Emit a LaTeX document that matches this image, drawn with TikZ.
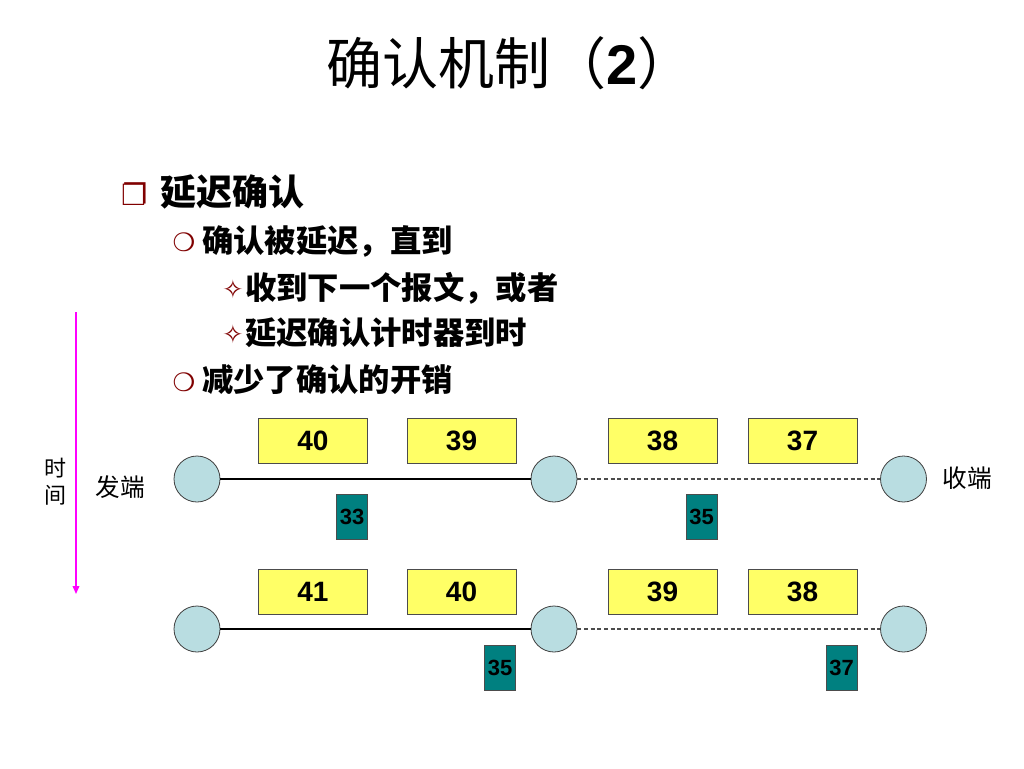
\documentclass[tikz,border=0pt]{standalone}
\usepackage{fontspec}
\setmainfont{Liberation Sans}
\newfontfamily\cjk{Noto Sans CJK SC}
\newfontfamily\sym{DejaVu Sans}
\usetikzlibrary{arrows.meta}
\definecolor{pktyellow}{RGB}{255,255,102}
\definecolor{ackteal}{RGB}{0,128,128}
\definecolor{hostblue}{RGB}{185,221,225}
\definecolor{bulletred}{RGB}{128,0,0}
\definecolor{timemag}{RGB}{255,0,255}
\tikzset{
    normal/.style={draw, semithick},
    pkt/.style={style=normal, draw=black!70, fill=pktyellow, inner sep=0pt, minimum width=81.75pt, minimum height=33.75pt, font=\fontsize{21}{21}\selectfont\bfseries}, % data segments
    ack/.style={style=normal, draw=black!70, fill=ackteal, inner sep=0pt, minimum width=23.25pt, minimum height=33.75pt, font=\fontsize{16.5}{16.5}\selectfont\bfseries}, % acknowledgements
    host/.style={style=normal, circle, draw=black!75, fill=hostblue, inner sep=0pt, minimum size=34.5pt}, % end points
    link/.style={line width=1pt, black},
    wait/.style={line width=0.8pt, black!70, dash pattern=on 3pt off 2pt},
    lbl/.style={font=\cjk\fontsize{18.5}{18.5}\selectfont, inner sep=0pt},
    bul/.style={font=\sym, text=bulletred, inner sep=0pt},
    item/.style={anchor=west, inner sep=0pt, font=\cjk\bfseries\fontsize{23.5}{23.5}\selectfont}
}

\begin{document}
\begin{tikzpicture}[x=0.75pt, y=-0.75pt]
    \useasboundingbox[fill=white] (0,0) rectangle (1024,768);

    \node[anchor=west, inner sep=0pt] (title) at (326,63) {\fontsize{42}{42}\selectfont{\cjk 确认机制（}{\bfseries 2}{\cjk ）}};

    % bullet list
    \node[bul, font=\sym\fontsize{22}{22}\selectfont] (b1) at (135,194) {❐};
    \node[item, font=\cjk\bfseries\fontsize{27}{27}\selectfont] (t1) at (160,192) {延迟确认};
    \node[bul, font=\sym\fontsize{19}{19}\selectfont] (b2) at (184,242) {❍};
    \node[item] (t2) at (202,241) {确认被延迟，直到};
    \node[bul, font=\sym\fontsize{19}{19}\selectfont] (b3) at (233,289) {✧};
    \node[item] (t3) at (245,288) {收到下一个报文，或者};
    \node[bul, font=\sym\fontsize{19}{19}\selectfont] (b4) at (233,334) {✧};
    \node[item] (t4) at (245,333) {延迟确认计时器到时};
    \node[bul, font=\sym\fontsize{19}{19}\selectfont] (b5) at (184,382) {❍};
    \node[item] (t5) at (202,380) {减少了确认的开销};

    % time axis
    \coordinate (top) at (76,312);
    \coordinate (bot) at (76,594);
    \draw[timemag, line width=1pt, -{Triangle[width=5pt,length=6pt]}] (top) -- (bot);
    \node[lbl, font=\cjk\fontsize{16.5}{16.5}\selectfont] (shi) at (55,468) {时};
    \node[lbl, font=\cjk\fontsize{16.5}{16.5}\selectfont] (jian) at (55,495) {间};
    \node[lbl] (send) at (120,487) {发端};
    \node[lbl] (recv) at (967,478) {收端};

    % first moment
    \node[host] (s1) at (197,479) {};
    \node[host] (m1) at (554,479) {};
    \node[host] (r1) at (903.5,479) {};
    \draw[link] (s1) -- (m1);
    \draw[wait] (m1) -- (r1);
    \node[pkt] (p40a) at (313,441) {40};
    \node[pkt] (p39a) at (461.5,441) {39};
    \node[pkt] (p38a) at (662.5,441) {38};
    \node[pkt] (p37a) at (802.5,441) {37};
    \node[ack] (a33) at (352,516.5) {33};
    \node[ack] (a35a) at (701.5,516.5) {35};

    % second moment
    \node[host] (s2) at (197,629) {};
    \node[host] (m2) at (554,629) {};
    \node[host] (r2) at (903.5,629) {};
    \draw[link] (s2) -- (m2);
    \draw[wait] (m2) -- (r2);
    \node[pkt] (p41b) at (313,592) {41};
    \node[pkt] (p40b) at (461.5,592) {40};
    \node[pkt] (p39b) at (662.5,592) {39};
    \node[pkt] (p38b) at (802.5,592) {38};
    \node[ack] (a35b) at (500,667.5) {35};
    \node[ack] (a37) at (841.5,667.5) {37};
\end{tikzpicture}
\end{document}
